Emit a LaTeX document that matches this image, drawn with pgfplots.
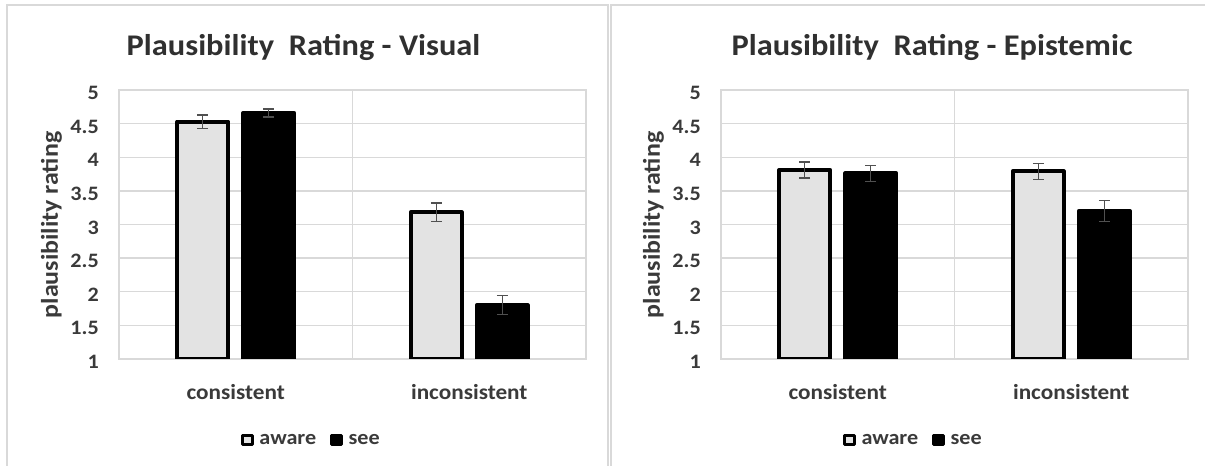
\documentclass[border=0pt]{standalone}
\usepackage{pgfplots}
\pgfplotsset{compat=1.18}
\usepackage{fontspec}
\setmainfont{Carlito}[FakeStretch=1.08]
\definecolor{gridgray}{HTML}{D9D9D9}
\definecolor{panelgray}{HTML}{D9D9D9}
\definecolor{barlight}{HTML}{E3E3E3}
\definecolor{txt}{HTML}{3A3A3A}
\definecolor{titletxt}{HTML}{303030}
\definecolor{errc}{HTML}{505050}
\newcommand\tickfont{\fontsize{20.5bp}{24bp}\selectfont\bfseries}
\newcommand\catfont{\fontsize{21.5bp}{25bp}\selectfont\bfseries}
\newcommand\legfont{\fontsize{20.5bp}{24bp}\selectfont\bfseries}
\newcommand\titlefont{\fontsize{30bp}{36bp}\selectfont\bfseries}
\newcommand\ylabfont{\fontsize{24bp}{28bp}\selectfont\bfseries}

\pgfplotsset{
  panel/.style={
    scale only axis, width=467bp, height=269bp,
    xmin=0, xmax=2, ymin=1, ymax=5,
    xtick={0.5,1.5}, xticklabels={consistent,inconsistent},
    ytick={1,1.5,2,2.5,3,3.5,4,4.5,5},
    yticklabels={1,1.5,2,2.5,3,3.5,4,4.5,5},
    major tick length=0pt,
    ymajorgrids,
    extra x ticks={1}, extra x tick labels={},
    extra x tick style={grid=major, major tick length=0pt},
    grid style={gridgray, line width=1.3bp},
    axis line style={gridgray, line width=1.3bp},
    yticklabel style={font=\tickfont, text=txt, anchor=east, inner sep=0pt, xshift=-20bp, yshift=-3bp},
    xticklabel style={font=\catfont, text=txt, anchor=north, inner sep=0pt, yshift=-25bp},
    legend columns=2,
    legend style={at={(axis description cs:0.412,-0.301)}, anchor=center, draw=none, fill=none,
      font=\legfont, text=txt, inner sep=0pt,
      /tikz/every odd column/.append style={column sep=4bp},
      /tikz/every even column/.append style={column sep=12bp}},
    legend image code/.code={\draw[##1, line width=2.8bp, line join=round] (0bp,-4.8bp) rectangle (9.6bp,4.8bp);},
  },
  errstyle/.style={error bars/.cd, y dir=both, y explicit, error mark=|,
    error bar style={errc, line width=1.4bp},
    error mark options={errc, line width=1.4bp, mark size=5.3bp}},
  aware/.style={ybar, bar width=0.2184, bar shift=0pt, fill=barlight, draw=black, line width=4bp, line join=round, errstyle},
  see/.style={ybar, bar width=0.2184, bar shift=0pt, fill=black, draw=black, line width=4bp, line join=round, errstyle},
}

\begin{document}
\begin{tikzpicture}[x=1bp,y=1bp]
\path[use as bounding box, fill=white] (0,0) rectangle (1205,466);
% panel borders
\draw[panelgray, line width=2bp] (7,-2) -- (7,461) -- (608,461) -- (608,-2);
\draw[panelgray, line width=2bp] (611,-2) -- (611,461) -- (1210,461);

% left panel
\begin{axis}[panel, at={(119bp,107bp)}, anchor=south west]
\addplot[aware] coordinates {(0.3587,4.53) +- (0,0.10) (1.3587,3.18) +- (0,0.14)};
\addplot[see] coordinates {(0.6413,4.66) +- (0,0.06) (1.6413,1.80) +- (0,0.14)};
\legend{aware,see}
\end{axis}
\node[font=\titlefont, text=titletxt, anchor=base] at (303.5,410) {Plausibility\ \ Rating - Visual};
\node[font=\ylabfont, text=txt, rotate=90, anchor=center] at (51.5,241) {plausibility rating};

% right panel
\begin{axis}[panel, at={(721bp,107bp)}, anchor=south west]
\addplot[aware] coordinates {(0.3587,3.81) +- (0,0.12) (1.3587,3.79) +- (0,0.12)};
\addplot[see] coordinates {(0.6413,3.76) +- (0,0.12) (1.6413,3.20) +- (0,0.16)};
\legend{aware,see}
\end{axis}
\node[font=\titlefont, text=titletxt, anchor=base] at (932,410) {Plausibility\ \ Rating - Epistemic};
\node[font=\ylabfont, text=txt, rotate=90, anchor=center] at (653.5,241) {plausibility rating};
\end{tikzpicture}
\end{document}
